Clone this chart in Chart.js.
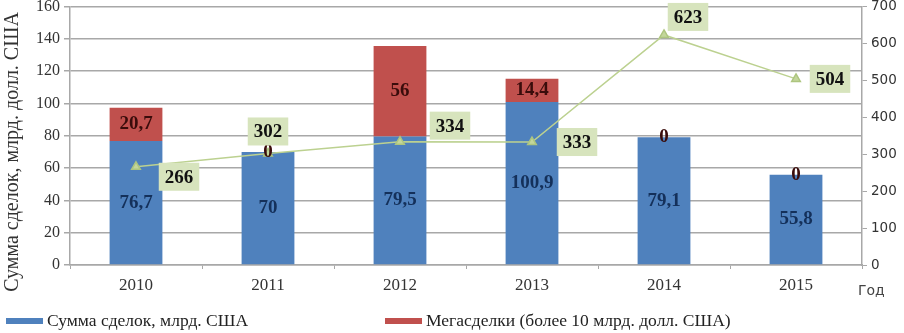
<!DOCTYPE html>
<html>
<head>
<meta charset="utf-8">
<script src="https://cdn.jsdelivr.net/npm/chart.js@4"></script>
<style>
  body { margin: 0; background: #fff; }
  #wrap { position: relative; width: 904px; height: 333px; }
  .leg { position: absolute; top: 310px; font: 17.5px "Liberation Serif", serif; color: #222; display: flex; align-items: center; white-space: nowrap; }
  .leg i { display: inline-block; width: 37px; height: 6px; margin-right: 4px; }
</style>
</head>
<body>
<div id="wrap">
  <canvas id="c" width="904" height="333"></canvas>
  <div class="leg" style="left:6px"><i style="background:#4f81bd"></i>Сумма сделок, млрд. США</div>
  <div class="leg" style="left:385px"><i style="background:#c0504d"></i>Мегасделки (более 10 млрд. долл. США)</div>
</div>
<script>
// ===== DATA =====
const years = ["2010", "2011", "2012", "2013", "2014", "2015"];
const dealSum = [76.7, 70, 79.5, 100.9, 79.1, 55.8];
const megaDeals = [20.7, 0, 56, 14.4, 0, 0];
const dealCount = [266, 302, 334, 333, 623, 504];

// label offsets for the count labels (dx, dy from the point)
const countLabelShift = [[43, 10], [0, -22], [50, -16], [45, 0], [24, -18], [34, 0]];

const fmt = (v) => String(v).replace(".", ",");

const labelsPlugin = {
  id: "labels",
  afterDatasetsDraw(chart) {
    const ctx = chart.ctx;
    ctx.save();
    ctx.textAlign = "center";
    ctx.textBaseline = "middle";
    ctx.font = "bold 19px 'Liberation Serif'";
    // bar values
    [0, 1].forEach((di) => {
      const meta = chart.getDatasetMeta(di);
      meta.data.forEach((el, i) => {
        const v = chart.data.datasets[di].data[i];
        ctx.fillStyle = di === 0 ? "#14305a" : "#3a0c0b";
        ctx.fillText(fmt(v), el.x, (el.y + el.base) / 2);
      });
    });
    // line values in boxes
    const lm = chart.getDatasetMeta(2);
    lm.data.forEach((el, i) => {
      const t = String(dealCount[i]);
      const cx = el.x + countLabelShift[i][0];
      const cy = el.y + countLabelShift[i][1];
      const w = ctx.measureText(t).width + 12;
      const h = 28;
      ctx.fillStyle = "#d7e4bd";
      ctx.fillRect(cx - w / 2, cy - h / 2, w, h);
      ctx.fillStyle = "#111";
      ctx.fillText(t, cx, cy + 1);
    });
    ctx.restore();
  },
  afterDraw(chart) {
    const ctx = chart.ctx;
    ctx.save();
    ctx.fillStyle = "#333";
    ctx.font = "20px 'Liberation Serif'";
    ctx.textAlign = "center";
    ctx.textBaseline = "middle";
    ctx.translate(13, 152);
    ctx.rotate(-Math.PI / 2);
    ctx.fillText("Сумма сделок, млрд. долл. США", 0, 0);
    ctx.restore();
    ctx.save();
    ctx.fillStyle = "#444";
    ctx.font = "14px 'DejaVu Sans'";
    ctx.textAlign = "left";
    ctx.textBaseline = "middle";
    ctx.fillText("Год", 858, 291);
    ctx.restore();
  },
};

const gridGray = "#a8a8a8";

new Chart(document.getElementById("c"), {
  type: "bar",
  data: {
    labels: years,
    datasets: [
      { label: "Сумма сделок, млрд. США", data: dealSum, backgroundColor: "#4f81bd", stack: "s", order: 1 },
      { label: "Мегасделки (более 10 млрд. долл. США)", data: megaDeals, backgroundColor: "#c0504d", stack: "s", order: 1 },
      {
        type: "line",
        label: "Количество сделок",
        data: dealCount,
        yAxisID: "y1",
        borderColor: "#bcd190",
        borderWidth: 1.5,
        pointStyle: "triangle",
        pointRadius: 5,
        pointBackgroundColor: "#c3d69b",
        pointBorderColor: "#adc57f",
        order: 0,
      },
    ],
  },
  options: {
    responsive: false,
    animation: false,
    layout: { padding: { top: 5, bottom: 38, left: 0, right: 0 } },
    datasets: { bar: { barPercentage: 0.4, categoryPercentage: 1 } },
    plugins: { legend: { display: false }, tooltip: { enabled: false } },
    scales: {
      x: {
        stacked: true,
        grid: { drawOnChartArea: false, offset: true, tickLength: 4, color: gridGray },
        border: { color: gridGray, width: 1.5 },
        ticks: { color: "#333", font: { family: "Liberation Serif", size: 17 }, padding: 6 },
        afterFit: (s) => { s.height = 30; s.paddingLeft = 0; s.paddingRight = 0; },
      },
      y: {
        stacked: true,
        min: 0,
        max: 160,
        ticks: { stepSize: 20, color: "#333", font: { family: "Liberation Serif", size: 16 }, padding: 4 },
        grid: { color: gridGray, lineWidth: 1.5, tickLength: 6 },
        border: { color: gridGray, width: 1.5 },
        afterFit: (s) => { s.width = 70; s.paddingTop = 0; s.paddingBottom = 0; },
      },
      y1: {
        position: "right",
        min: 0,
        max: 700,
        ticks: { stepSize: 100, color: "#333", font: { family: "DejaVu Sans", size: 13.5 }, padding: 4 },
        grid: { drawOnChartArea: false, color: gridGray, tickLength: 5 },
        border: { color: gridGray, width: 1.5 },
        afterFit: (s) => { s.width = 42; s.paddingTop = 0; s.paddingBottom = 0; },
      },
    },
  },
  plugins: [labelsPlugin],
});
</script>
</body>
</html>
